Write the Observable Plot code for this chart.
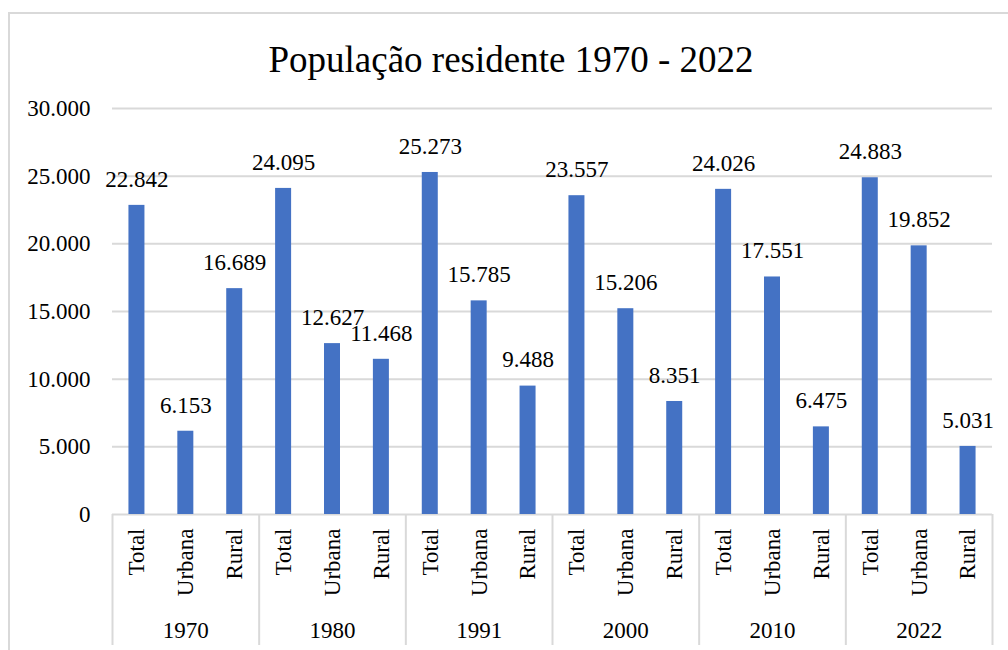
<!DOCTYPE html>
<html>
<head>
<meta charset="utf-8">
<script src="https://cdn.jsdelivr.net/npm/d3@7"></script>
<script src="https://cdn.jsdelivr.net/npm/@observablehq/plot@0.6"></script>
<style>
  html, body { margin: 0; padding: 0; background: #fff; overflow: hidden; }
  #frame { position: absolute; left: 8px; top: 12px; width: 1100px; height: 700px;
           border-left: 2px solid #d9d9d9; border-top: 2px solid #d9d9d9; box-sizing: border-box; }
  #title { position: absolute; left: 0; width: 1022px; top: 42px; text-align: center;
           font-family: "Liberation Serif", "Times New Roman", serif; font-size: 37px; line-height: 36px; color: #000; }
  #chart { position: absolute; left: 0; top: 90px; width: 1008px; }
  #chart svg, #chart svg text { font-family: "Liberation Serif", "Times New Roman", serif !important; }
</style>
</head>
<body>
<div id="frame"></div>
<div id="title">População residente 1970 - 2022</div>
<div id="chart"></div>
<script>
const years = ["1970", "1980", "1991", "2000", "2010", "2022"];
const categories = ["Total", "Urbana", "Rural"];
const totalValues = [22842, 24095, 25273, 23557, 24026, 24883];
const urbanaValues = [6153, 12627, 15785, 15206, 17551, 19852];
const ruralValues = [16689, 11468, 9488, 8351, 6475, 5031];
const yTicks = [0, 5000, 10000, 15000, 20000, 25000, 30000];

const seriesByCategory = {Total: totalValues, Urbana: urbanaValues, Rural: ruralValues};
const rows = [];
years.forEach((year, i) => {
  categories.forEach(cat => {
    rows.push({key: year + " " + cat, year, cat, value: seriesByCategory[cat][i]});
  });
});
const keys = rows.map(d => d.key);

const locale = d3.formatLocale({decimal: ",", thousands: ".", grouping: [3], currency: ["", ""]});
const fmt = locale.format(",d");

const W = 1008, H = 560;
const mL = 112, mR = 16, mT = 18, mB = 136;
const step = (W - mL - mR) / keys.length;
const barW = 16;
const inset = (step - barW) / 2;
const plotH = H - mT - mB;

const font = '"Liberation Serif", "Times New Roman", serif';

const chart = Plot.plot({
  width: W,
  height: H,
  marginLeft: mL,
  marginRight: mR,
  marginTop: mT,
  marginBottom: mB,
  style: {fontFamily: font, fontSize: "23px", color: "#000", background: "transparent", overflow: "visible"},
  x: {domain: keys, padding: 0, round: false, axis: null},
  y: {domain: [0, 30000], axis: null},
  marks: [
    Plot.ruleY(yTicks.filter(d => d > 0), {stroke: "#d9d9d9", strokeWidth: 2}),
    Plot.ruleY([0], {stroke: "#d9d9d9", strokeWidth: 2}),
    Plot.axisY({ticks: yTicks, tickSize: 0, tickPadding: 22, tickFormat: fmt, label: null, fontSize: 23, fontFamily: font}),
    Plot.barY(rows, {x: "key", y: "value", fill: "#4472C4", insetLeft: inset, insetRight: inset}),
    Plot.text(rows, {x: "key", y: "value", text: d => fmt(d.value), dy: -26, fill: "#000", fontSize: 23, fontFamily: font, lineAnchor: "middle"}),
    Plot.text(rows, {x: "key", text: "cat", frameAnchor: "bottom", rotate: -90, textAnchor: "end", lineAnchor: "middle", dy: 14, fill: "#000", fontSize: 23, fontFamily: font}),
    Plot.text(rows.filter(d => d.cat === "Urbana"), {x: "key", text: "year", frameAnchor: "bottom", dy: 116, lineAnchor: "middle", fill: "#000", fontSize: 23, fontFamily: font}),
    Plot.ruleX(rows.filter(d => d.cat === "Total"), {x: "key", dx: -step / 2, stroke: "#d9d9d9", strokeWidth: 2, insetTop: plotH, insetBottom: -131}),
    Plot.ruleX(rows.slice(-1), {x: "key", dx: step / 2, stroke: "#d9d9d9", strokeWidth: 2, insetTop: plotH, insetBottom: -131})
  ]
});
document.getElementById("chart").appendChild(chart);
</script>
</body>
</html>
